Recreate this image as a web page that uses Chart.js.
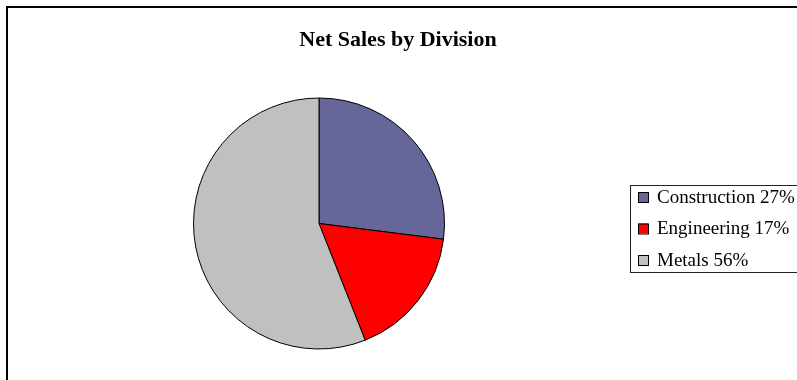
<!DOCTYPE html>
<html><head><meta charset="utf-8">
<script src="https://cdn.jsdelivr.net/npm/chart.js@4/dist/chart.umd.min.js"></script>
<style>
html,body{margin:0;padding:0;background:#fff;overflow:hidden;}
#wrap{position:relative;width:797px;height:380px;}
#frame{position:absolute;left:6px;top:6px;width:900px;height:500px;border:2px solid #000;box-sizing:border-box;}
canvas{position:absolute;left:0;top:0;}
</style></head>
<body><div id="wrap"><div id="frame"></div><canvas id="c" width="797" height="380"></canvas></div>
<script>
const titleText = "Net Sales by Division";
const categories = ["Construction", "Engineering", "Metals"];
const values = [27, 17, 56];
const colors = ["#666699", "#FF0000", "#C0C0C0"];

const legendPlugin = {
  id: 'customText',
  afterDraw(chart) {
    const ctx = chart.ctx;
    ctx.save();
    ctx.fillStyle = '#000';
    ctx.font = 'bold 22px "Liberation Serif", "Times New Roman", serif';
    ctx.textAlign = 'center';
    ctx.textBaseline = 'alphabetic';
    ctx.fillText(titleText, 398, 46);
    // legend box
    const bx = 630, by = 185, bw = 200, bh = 87;
    ctx.strokeStyle = '#222';
    ctx.lineWidth = 1;
    ctx.strokeRect(bx + 0.5, by + 0.5, bw, bh);
    ctx.font = '19px "Liberation Serif", "Times New Roman", serif';
    ctx.textAlign = 'left';
    ctx.textBaseline = 'middle';
    const ds = chart.data.datasets[0];
    chart.data.labels.forEach((lab, i) => {
      const cy = 197 + i * 31.5;
      ctx.fillStyle = ds.backgroundColor[i];
      ctx.fillRect(638, cy - 5, 10, 10);
      ctx.strokeStyle = '#000';
      ctx.strokeRect(638.5, cy - 5 + 0.5, 10, 10);
      ctx.fillStyle = '#000';
      ctx.fillText(lab + ' ' + ds.data[i] + '%', 657, cy + 1);
    });
    ctx.restore();
  }
};

new Chart(document.getElementById('c'), {
  type: 'pie',
  data: {
    labels: categories,
    datasets: [{
      data: values,
      backgroundColor: colors,
      borderColor: '#000',
      borderWidth: 1,
      borderAlign: 'center'
    }]
  },
  options: {
    responsive: false,
    animation: false,
    devicePixelRatio: 1,
    layout: { padding: { left: 193, right: 352, top: 97, bottom: 30 } },
    plugins: { legend: { display: false }, title: { display: false }, tooltip: { enabled: false } }
  },
  plugins: [legendPlugin]
});
</script></body></html>
